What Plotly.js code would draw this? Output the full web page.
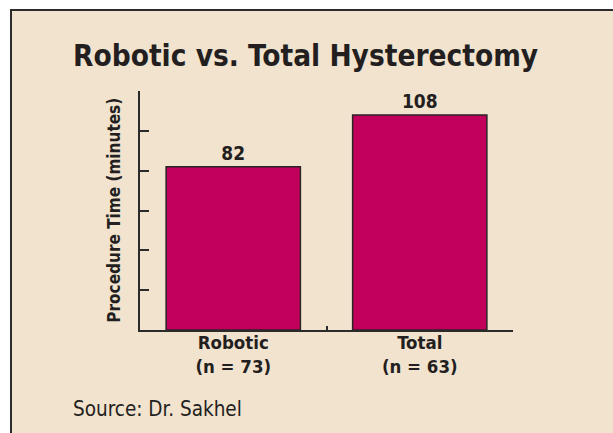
<!DOCTYPE html>
<html>
<head>
<meta charset="utf-8">
<script src="https://cdn.plot.ly/plotly-3.0.1.min.js"></script>
<style>
  html, body { margin: 0; padding: 0; background: #ffffff; width: 613px; height: 433px; overflow: hidden; }
  #frame { position: absolute; left: 10px; top: 9px; width: 603px; height: 424px;
           border-left: 2px solid #2b2b2b; border-top: 2px solid #2b2b2b; background: #f2e3cf; }
  #chart { width: 601px; height: 422px; }
</style>
</head>
<body>
<div id="frame"><div id="chart"></div></div>
<script>
const categories = ["Robotic<br>(n = 73)", "Total<br>(n = 63)"];
const procedureMinutes = [82, 108];
const valueLabels = ["82", "108"];
const chartTitle = "Robotic vs. Total Hysterectomy";
const yTitle = "Procedure Time (minutes)";
const sourceNote = "Source: Dr. Sakhel";

const FONT = "'Liberation Sans Narrow', 'DejaVu Sans Condensed', 'Liberation Sans', Arial, sans-serif";
const INK = "#231f20";

const trace = {
  type: "bar",
  x: categories,
  y: procedureMinutes,
  text: valueLabels,
  textposition: "outside",
  texttemplate: "%{text}",
  textfont: { family: FONT, size: 19, color: INK, weight: 700 },
  cliponaxis: false,
  marker: { color: "#c2005b", line: { color: "#2b2526", width: 1.5 } },
  hoverinfo: "skip"
};

const layout = {
  width: 601, height: 422,
  margin: { l: 128, r: 100, t: 80, b: 103, pad: 0 },
  paper_bgcolor: "rgba(0,0,0,0)",
  plot_bgcolor: "rgba(0,0,0,0)",
  bargap: 0.28,
  showlegend: false,
  xaxis: {
    type: "category",
    range: [-0.5, 1.5],
    showline: true, linecolor: "#2b2b2b", linewidth: 2,
    ticks: "inside", tickson: "boundaries", ticklen: 4, tickwidth: 2, tickcolor: "#2b2b2b",
    ticklabelstandoff: -5,
    tickfont: { family: FONT, size: 18.5, color: INK, weight: 700 },
    showgrid: false, zeroline: false, fixedrange: true
  },
  yaxis: {
    range: [0, 120], dtick: 20, tick0: 0,
    showline: true, linecolor: "#2b2b2b", linewidth: 2,
    ticks: "inside", ticklen: 9, tickwidth: 2, tickcolor: "#2b2b2b",
    showticklabels: false, showgrid: false, zeroline: false, fixedrange: true
  },
  annotations: [
    { text: chartTitle, xref: "paper", yref: "paper", x: -0.184, y: 1.145,
      xanchor: "left", yanchor: "middle", showarrow: false,
      font: { family: FONT, size: 29.5, color: INK, weight: 700 } },
    { text: yTitle, xref: "paper", yref: "paper", x: -0.072, y: 0.5,
      xanchor: "center", yanchor: "middle", textangle: -90, showarrow: false,
      font: { family: FONT, size: 17, color: INK, weight: 700 } },
    { text: sourceNote, xref: "paper", yref: "paper", x: -0.184, y: -0.33,
      xanchor: "left", yanchor: "middle", showarrow: false,
      font: { family: FONT, size: 20.5, color: INK } }
  ]
};

Plotly.newPlot("chart", [trace], layout, { displayModeBar: false, staticPlot: true });
</script>
</body>
</html>
